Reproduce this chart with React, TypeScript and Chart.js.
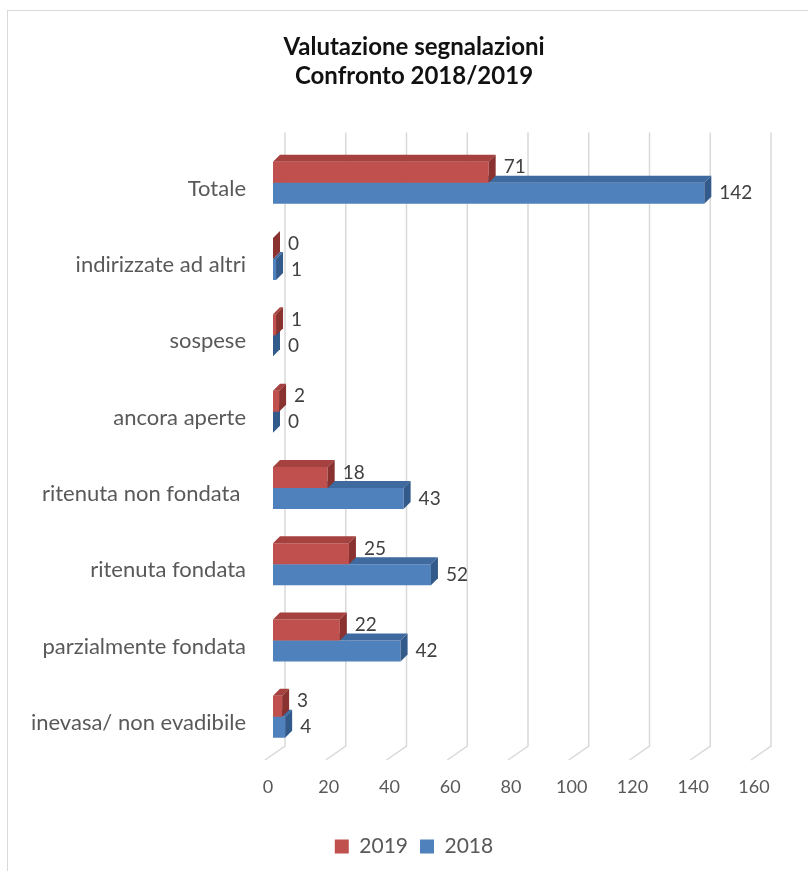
import React, { useEffect, useRef } from "react";
import { Chart, registerables } from "chart.js";

Chart.register(...registerables);

const categories = [
  "Totale",
  "indirizzate ad altri",
  "sospese",
  "ancora aperte",
  "ritenuta non fondata ",
  "ritenuta fondata",
  "parzialmente fondata",
  "inevasa/ non evadibile",
];
const values2019 = [71, 0, 1, 2, 18, 25, 22, 3];
const values2018 = [142, 1, 0, 0, 43, 52, 42, 4];
const seriesNames = ["2019", "2018"];
const titleLines = ["Valutazione segnalazioni", "Confronto 2018/2019"];
const axisMin = 0;
const axisMax = 160;
const axisStep = 20;

const FONT = "Lato, 'Open Sans', sans-serif";
const DEPTH = 7;

const bar3d = {
  id: "bar3d",
  beforeDatasetsDraw(chart: any) {
    const { ctx, chartArea, scales } = chart;
    const xs = scales.x;
    ctx.save();
    ctx.strokeStyle = "#d9d9d9";
    ctx.lineWidth = 1.5;
    xs.ticks.forEach((t: any) => {
      const x = xs.getPixelForValue(t.value);
      ctx.beginPath();
      ctx.moveTo(x + 12, chartArea.top - 12);
      ctx.lineTo(x + 12, chartArea.bottom - 9);
      ctx.lineTo(x - 8, chartArea.bottom + 5);
      ctx.stroke();
    });
    ctx.restore();
  },
  afterDatasetDraw(chart: any, args: any) {
    const ctx = chart.ctx;
    const ds: any = chart.data.datasets[args.index];
    ctx.save();
    args.meta.data.forEach((el: any) => {
      const { x, y, base, height } = el.getProps(["x", "y", "base", "height"], true);
      const top = y - height / 2;
      const bot = y + height / 2;
      ctx.fillStyle = ds.topColor;
      ctx.beginPath();
      ctx.moveTo(base, top);
      ctx.lineTo(base + DEPTH, top - DEPTH);
      ctx.lineTo(x + DEPTH, top - DEPTH);
      ctx.lineTo(x, top);
      ctx.closePath();
      ctx.fill();
      ctx.fillStyle = ds.sideColor;
      ctx.beginPath();
      ctx.moveTo(x, top);
      ctx.lineTo(x + DEPTH, top - DEPTH);
      ctx.lineTo(x + DEPTH, bot - DEPTH);
      ctx.lineTo(x, bot);
      ctx.closePath();
      ctx.fill();
    });
    ctx.restore();
  },
  afterDatasetsDraw(chart: any) {
    const ctx = chart.ctx;
    ctx.save();
    ctx.font = `19px ${FONT}`;
    ctx.fillStyle = "#404040";
    ctx.textAlign = "left";
    ctx.textBaseline = "middle";
    chart.data.datasets.forEach((ds: any, i: number) => {
      const meta = chart.getDatasetMeta(i);
      meta.data.forEach((el: any, j: number) => {
        const { x, y } = el.getProps(["x", "y"], true);
        ctx.fillText(String(ds.data[j]), x + DEPTH + 8, y + ds.labelShift);
      });
    });
    ctx.restore();
  },
};

export default function App() {
  const ref = useRef<HTMLCanvasElement | null>(null);
  useEffect(() => {
    if (!ref.current) return;
    const chart = new Chart(ref.current, {
      type: "bar",
      data: {
        labels: categories,
        datasets: [
          {
            label: seriesNames[0],
            data: values2019,
            backgroundColor: "#c0504d",
            topColor: "#a5413e",
            sideColor: "#8a322f",
            labelShift: -5,
            categoryPercentage: 0.55,
            barPercentage: 1,
          } as any,
          {
            label: seriesNames[1],
            data: values2018,
            backgroundColor: "#4f81bd",
            topColor: "#3e6a9f",
            sideColor: "#325a8a",
            labelShift: 0,
            categoryPercentage: 0.55,
            barPercentage: 1,
          } as any,
        ],
      },
      options: {
        indexAxis: "y",
        animation: false,
        responsive: false,
        events: [],
        layout: { padding: { left: 69, right: 49, top: 0, bottom: 4 } },
        scales: {
          x: {
            min: axisMin,
            max: axisMax,
            grid: { display: false, drawTicks: false },
            border: { display: false },
            ticks: {
              stepSize: axisStep,
              padding: 21,
              labelOffset: -5,
              color: "#595959",
              font: { family: FONT, size: 18 },
            },
            afterFit(scale: any) {
              scale.height = 69;
            },
          },
          y: {
            grid: { display: false, drawTicks: false },
            border: { display: false },
            ticks: {
              padding: 27,
              labelOffset: 6,
              color: "#595959",
              font: { family: FONT, size: 22 },
              autoSkip: false,
            },
            afterFit(scale: any) {
              scale.width = 204;
              // let long category labels extend past the axis box without clipping
              scale._computeLabelArea = () => undefined;
            },
          },
        },
        plugins: {
          title: {
            display: true,
            text: titleLines,
            color: "#111111",
            font: { family: FONT, size: 24, weight: "bold", lineHeight: 1.2 },
            padding: { top: 33, bottom: 54 },
          },
          legend: {
            position: "bottom",
            labels: {
              color: "#595959",
              font: { family: FONT, size: 21 },
              boxWidth: 14,
              boxHeight: 14,
              padding: 12,
            },
          },
          tooltip: { enabled: false },
        },
      },
      plugins: [bar3d],
    });
    return () => chart.destroy();
  }, []);

  return (
    <div style={{ position: "absolute", left: 0, top: 0, width: 808, height: 871, background: "#fff", overflow: "hidden" }}>
      <div
        style={{
          position: "absolute",
          left: 7,
          top: 10,
          width: 820,
          height: 880,
          borderTop: "1px solid #d9d9d9",
          borderLeft: "1px solid #d9d9d9",
        }}
      />
      <canvas ref={ref} width={808} height={871} style={{ position: "absolute", left: 0, top: 0 }} />
    </div>
  );
}
